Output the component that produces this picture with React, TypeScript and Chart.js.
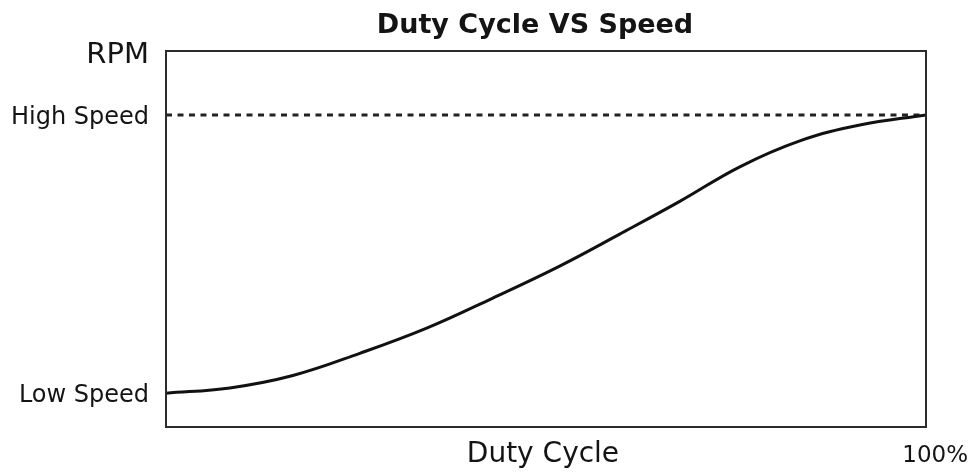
import React, { useEffect, useRef } from "react";
import { Chart, registerables } from "chart.js";

Chart.register(...registerables);

// Duty cycle (% of full scale) and relative speed (0 = axis bottom, 100 = axis top)
const dutyCycle = [0, 8.4, 16.7, 25.5, 34.3, 43, 51.8, 59.7, 67.6, 75.5, 83.4, 91.3, 100];
const speed = [9, 10.4, 13.7, 19.6, 26.3, 34.3, 42.8, 51.3, 60.0, 69.2, 76.1, 80.3, 83];

const lowSpeed = 9;
const highSpeed = 83;
const rpmTop = 99.6;

const yTickValues = [lowSpeed, highSpeed, rpmTop];
const yTickLabels = ["Low Speed", "High Speed", "RPM"];

const xTickValues = [49.6, 101.2];
const xTickLabels = ["Duty Cycle", "100%"];

const titleText = "Duty Cycle VS Speed";

// small vertical nudge (axis units) so the text's optical centre sits on the tick
const labelNudge = 0.8;

const FONT = "'DejaVu Sans', 'Liberation Sans', Arial, sans-serif";
const TEXT = "#141414";

const framePlugin = {
  id: "frame",
  afterLayout(chart: any) {
    const t = chart.titleBlock;
    if (t) {
      t.left -= 11;
      t.right -= 11;
    }
  },
  afterDatasetsDraw(chart: any) {
    const { ctx, chartArea } = chart;
    ctx.save();
    ctx.strokeStyle = "#2b2b2b";
    ctx.lineWidth = 2;
    ctx.strokeRect(chartArea.left, chartArea.top, chartArea.right - chartArea.left, chartArea.bottom - chartArea.top);
    ctx.restore();
  },
};

export default function App() {
  const ref = useRef<HTMLCanvasElement | null>(null);

  useEffect(() => {
    if (!ref.current) return;
    const chart = new Chart(ref.current, {
      type: "line",
      data: {
        datasets: [
          {
            label: "Speed",
            data: dutyCycle.map((x, i) => ({ x, y: speed[i] })),
            borderColor: "#111111",
            borderWidth: 3,
            pointRadius: 0,
            tension: 0.4,
            fill: false,
          },
          {
            label: "High Speed",
            data: [
              { x: 0, y: highSpeed },
              { x: 100, y: highSpeed },
            ],
            borderColor: "#222222",
            borderWidth: 3,
            borderDash: [6, 5.5],
            pointRadius: 0,
            fill: false,
          },
        ],
      },
      options: {
        animation: false,
        responsive: false,
        devicePixelRatio: 1,
        layout: { padding: { left: 0, right: 48, top: 0, bottom: 0 } },
        plugins: {
          legend: { display: false },
          tooltip: { enabled: false },
          title: {
            display: true,
            fullSize: false,
            text: titleText,
            color: TEXT,
            font: { family: FONT, size: 27, weight: "bold", lineHeight: 1.2 },
            padding: { top: 10, bottom: 8.6 },
          },
        },
        scales: {
          x: {
            type: "linear",
            min: 0,
            max: 100,
            grid: { display: false, drawTicks: false },
            border: { display: false },
            afterBuildTicks: (scale: any) => {
              scale.ticks = xTickValues.map((v) => ({ value: v }));
            },
            afterFit: (scale: any) => {
              scale.height = 46;
              scale.paddingLeft = 0;
              scale.paddingRight = 0;
            },
            ticks: {
              autoSkip: false,
              maxRotation: 0,
              minRotation: 0,
              padding: 14,
              color: TEXT,
              callback: (value: any) => {
                const i = xTickValues.indexOf(Number(value));
                return i >= 0 ? xTickLabels[i] : "";
              },
              font: (ctx: any) =>
                ctx.tick && ctx.tick.value === 101.2
                  ? { family: FONT, size: 23, lineHeight: "31px" }
                  : { family: FONT, size: 28, lineHeight: "28px" },
            },
          },
          y: {
            type: "linear",
            display: false,
            min: 0,
            max: 100,
          },
          yLabels: {
            type: "linear",
            position: "left",
            min: labelNudge,
            max: 100 + labelNudge,
            grid: { display: false, drawTicks: false },
            border: { display: false },
            afterBuildTicks: (scale: any) => {
              scale.ticks = yTickValues.map((v) => ({ value: v }));
            },
            afterFit: (scale: any) => {
              scale.width = 166;
              scale.paddingTop = 0;
              scale.paddingBottom = 0;
            },
            ticks: {
              autoSkip: false,
              padding: 17,
              color: TEXT,
              callback: (value: any) => {
                const i = yTickValues.indexOf(Number(value));
                return i >= 0 ? yTickLabels[i] : "";
              },
              font: (ctx: any) =>
                ctx.tick && ctx.tick.value === rpmTop
                  ? { family: FONT, size: 29 }
                  : { family: FONT, size: 24 },
            },
          },
        },
      },
      plugins: [framePlugin],
    } as any);
    return () => chart.destroy();
  }, []);

  return (
    <div style={{ position: "absolute", left: 0, top: 0, width: 974, height: 473, background: "#ffffff" }}>
      <canvas ref={ref} width={974} height={473} />
    </div>
  );
}
